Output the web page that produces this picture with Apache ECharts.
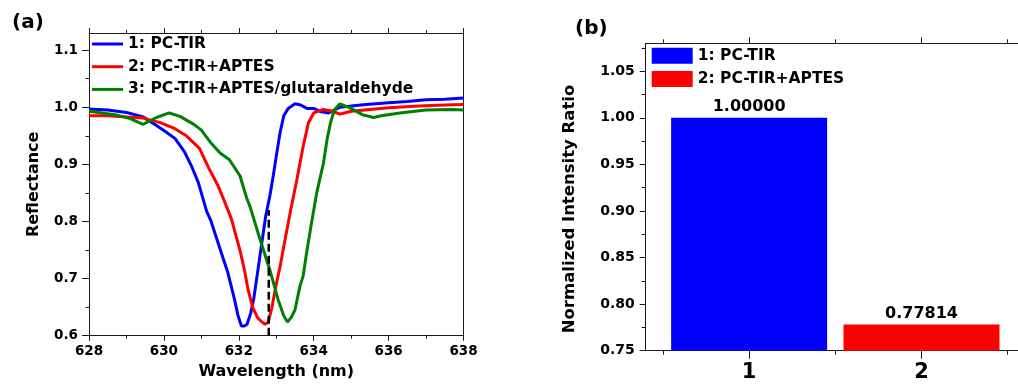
<!DOCTYPE html>
<html><head><meta charset="utf-8">
<script src="https://cdn.jsdelivr.net/npm/echarts@6/dist/echarts.min.js"></script>
<style>html,body{margin:0;padding:0;background:#fff}#c{width:1018px;height:385px}</style>
</head><body><div id="c"></div>
<script>
// ---- Panel (a) data: wavelength (nm) and reflectance ----
const seriesNames = ['1: PC-TIR', '2: PC-TIR+APTES', '3: PC-TIR+APTES/glutaraldehyde'];
const blueWl = [628.0,628.5,629.0,629.45,629.8,630.05,630.3,630.55,630.75,630.92,631.14,631.25,631.45,631.7,631.88,631.98,632.07,632.15,632.22,632.32,632.4,632.5,632.6,632.72,632.83,632.92,633.0,633.1,633.2,633.32,633.5,633.65,633.82,634.0,634.2,634.4,634.7,635.0,635.4,636.0,636.5,637.0,637.5,638.0];
const blueR  = [0.997,0.995,0.991,0.983,0.968,0.957,0.945,0.922,0.895,0.868,0.818,0.802,0.762,0.712,0.665,0.635,0.617,0.617,0.620,0.640,0.665,0.710,0.756,0.810,0.845,0.880,0.914,0.955,0.985,0.998,1.006,1.004,0.998,0.998,0.992,0.990,1.000,1.002,1.005,1.008,1.010,1.013,1.014,1.016];
const redWl = [628.0,628.5,629.0,629.45,629.9,630.25,630.6,630.95,631.2,631.45,631.65,631.8,632.03,632.15,632.25,632.38,632.5,632.6,632.7,632.78,632.88,633.0,633.1,633.2,633.37,633.55,633.72,633.86,634.0,634.25,634.5,634.7,635.0,635.5,636.0,636.8,637.5,638.0];
const redR  = [0.985,0.985,0.983,0.981,0.973,0.964,0.950,0.928,0.893,0.862,0.830,0.805,0.750,0.715,0.680,0.648,0.632,0.625,0.620,0.623,0.648,0.690,0.720,0.756,0.815,0.873,0.932,0.973,0.990,0.996,0.993,0.988,0.993,0.996,0.999,1.002,1.004,1.005];
const greenWl = [628.0,628.7,629.1,629.44,629.8,630.14,630.43,630.8,631.0,631.25,631.5,631.75,632.03,632.21,632.3,632.57,632.83,633.05,633.2,633.3,633.4,633.5,633.63,633.72,633.81,633.94,634.08,634.26,634.36,634.45,634.55,634.7,634.97,635.3,635.6,635.8,636.3,637.0,637.7,638.0];
const greenR  = [0.993,0.987,0.980,0.970,0.982,0.990,0.984,0.970,0.960,0.938,0.920,0.908,0.880,0.841,0.826,0.768,0.715,0.663,0.635,0.624,0.632,0.645,0.686,0.705,0.745,0.797,0.850,0.902,0.945,0.973,0.995,1.006,0.999,0.987,0.982,0.985,0.990,0.995,0.996,0.995];
const dashWl = [632.8, 632.8];
const dashR  = [0.6, 0.82];
const aXTicks = [628, 630, 632, 634, 636, 638];
const aYTicks = [0.6, 0.7, 0.8, 0.9, 1.0, 1.1];
const aYMinor = [0.65, 0.75, 0.85, 0.95, 1.05];

// ---- Panel (b) data ----
const barNames = ['1: PC-TIR', '2: PC-TIR+APTES'];
const barCats = [1, 2];
const barValues = [1.00000, 0.77814];
const bXMinor = [0.5, 1.5, 2.5];
const bYTicks = [0.75, 0.80, 0.85, 0.90, 0.95, 1.00, 1.05];
const bYMinor = [0.775, 0.825, 0.875, 0.925, 0.975, 1.025, 1.075];

const zip = (a, b) => a.map((v, i) => [v, b[i]]);
const FONT = 'DejaVu Sans';
const AX = '#1a1a1a';
const tStyle = (size) => ({ fontFamily: FONT, fontWeight: 'bold', fontSize: size, color: '#000' });
const line = { show: true, lineStyle: { color: AX, width: 1 } };
const noLabel = { show: false };
const LW = 3;

const chart = echarts.init(document.getElementById('c'), null, { renderer: 'canvas' });
const option = {
  animation: false,
  backgroundColor: '#fff',
  graphic: [
    { type: 'text', left: 12, top: 13, style: { text: '(a)', font: 'bold 20px "DejaVu Sans"', fill: '#000' } },
    { type: 'text', left: 575, top: 19, style: { text: '(b)', font: 'bold 20px "DejaVu Sans"', fill: '#000' } }
  ],
  grid: [
    { left: 89, top: 33, width: 374.5, height: 302.7 },
    { left: 645.7, top: 43.3, width: 372.3, height: 307.4 }
  ],
  legend: [
    { data: seriesNames, orient: 'vertical', left: 92, top: 36, padding: 0, icon: 'rect', itemWidth: 31, itemHeight: 3, itemGap: 6.7,
      textStyle: Object.assign(tStyle(15.5), { lineHeight: 16 }), selectedMode: false },
    { data: barNames, orient: 'vertical', left: 651.7, top: 47.7, padding: 0, icon: 'rect', itemWidth: 41, itemHeight: 16, itemGap: 7.3,
      textStyle: Object.assign(tStyle(15.5), { lineHeight: 16 }), selectedMode: false }
  ],
  xAxis: [
    { gridIndex: 0, type: 'value', position: 'bottom', min: 628, max: 638, interval: 2,
      axisLine: line, axisTick: { show: true, inside: false, length: 5, lineStyle: { color: AX } },
      minorTick: { show: true, splitNumber: 2, length: 3, lineStyle: { color: AX } },
      splitLine: { show: false },
      axisLabel: Object.assign(tStyle(13.5), { margin: 9, customValues: aXTicks }),
      name: 'Wavelength (nm)', nameLocation: 'middle', nameGap: 28, nameTextStyle: tStyle(16) },
    { gridIndex: 0, type: 'value', position: 'top', min: 628, max: 638, interval: 2,
      axisLine: line, axisTick: { show: true, inside: false, length: 5, lineStyle: { color: AX } },
      minorTick: { show: true, splitNumber: 2, length: 3, lineStyle: { color: AX } },
      splitLine: { show: false }, axisLabel: noLabel },
    { gridIndex: 1, type: 'value', position: 'bottom', min: 0.4, max: 2.56,
      axisLine: line, axisTick: { show: true, inside: false, length: 8, customValues: barCats, lineStyle: { color: AX } },
      splitLine: { show: false },
      axisLabel: Object.assign(tStyle(21), { margin: 11, customValues: barCats, formatter: v => String(Math.round(v)) }) },
    { gridIndex: 1, type: 'value', position: 'bottom', min: 0.4, max: 2.56,
      axisLine: { show: false }, axisTick: { show: true, inside: false, length: 4, customValues: bXMinor, lineStyle: { color: AX } },
      splitLine: { show: false }, axisLabel: noLabel },
    { gridIndex: 1, type: 'value', position: 'top', min: 0.4, max: 2.56,
      axisLine: line, axisTick: { show: true, inside: false, length: 6, customValues: barCats, lineStyle: { color: AX } },
      splitLine: { show: false }, axisLabel: noLabel },
    { gridIndex: 1, type: 'value', position: 'top', min: 0.4, max: 2.56,
      axisLine: { show: false }, axisTick: { show: true, inside: false, length: 4, customValues: bXMinor, lineStyle: { color: AX } },
      splitLine: { show: false }, axisLabel: noLabel }
  ],
  yAxis: [
    { gridIndex: 0, type: 'value', position: 'left', min: 0.6, max: 1.13,
      axisLine: line, axisTick: { show: true, inside: false, length: 7, customValues: aYTicks, lineStyle: { color: AX } },
      splitLine: { show: false },
      axisLabel: Object.assign(tStyle(13.5), { margin: 11, customValues: aYTicks, formatter: v => v.toFixed(1) }),
      name: 'Reflectance', nameLocation: 'middle', nameGap: 47, nameTextStyle: tStyle(16) },
    { gridIndex: 0, type: 'value', position: 'left', min: 0.6, max: 1.13,
      axisLine: { show: false }, axisTick: { show: true, inside: false, length: 3.5, customValues: aYMinor, lineStyle: { color: AX } },
      splitLine: { show: false }, axisLabel: noLabel },
    { gridIndex: 0, type: 'value', position: 'right', min: 0.6, max: 1.13,
      axisLine: line, axisTick: { show: false }, splitLine: { show: false }, axisLabel: noLabel },
    { gridIndex: 1, type: 'value', position: 'left', min: 0.75, max: 1.08,
      axisLine: line, axisTick: { show: true, inside: false, length: 6, customValues: bYTicks, lineStyle: { color: AX } },
      splitLine: { show: false },
      axisLabel: Object.assign(tStyle(14), { margin: 11, customValues: bYTicks, formatter: v => v.toFixed(2) }),
      name: 'Normalized Intensity Ratio', nameLocation: 'middle', nameGap: 67,
      nameTextStyle: Object.assign(tStyle(16.5), { padding: [0, 24, 0, 0] }) },
    { gridIndex: 1, type: 'value', position: 'left', min: 0.75, max: 1.08,
      axisLine: { show: false }, axisTick: { show: true, inside: false, length: 4, customValues: bYMinor, lineStyle: { color: AX } },
      splitLine: { show: false }, axisLabel: noLabel }
  ],
  series: [
    { name: seriesNames[0], type: 'line', xAxisIndex: 0, yAxisIndex: 0, data: zip(blueWl, blueR), showSymbol: false, symbol: 'none',
      lineStyle: { color: '#0000ff', width: LW }, itemStyle: { color: '#0000ff' } },
    { name: seriesNames[1], type: 'line', xAxisIndex: 0, yAxisIndex: 0, data: zip(redWl, redR), showSymbol: false, symbol: 'none',
      lineStyle: { color: '#ff0000', width: LW }, itemStyle: { color: '#ff0000' } },
    { name: seriesNames[2], type: 'line', xAxisIndex: 0, yAxisIndex: 0, data: zip(greenWl, greenR), showSymbol: false, symbol: 'none',
      lineStyle: { color: '#008000', width: LW }, itemStyle: { color: '#008000' } },
    { name: 'dash', type: 'line', xAxisIndex: 0, yAxisIndex: 0, data: zip(dashWl, dashR), showSymbol: false, symbol: 'none', silent: true,
      lineStyle: { color: '#000', width: 2.5, type: [8, 4] } },
    { name: barNames[0], type: 'bar', xAxisIndex: 2, yAxisIndex: 3, data: [[barCats[0], barValues[0]]], barWidth: 156, barGap: '-100%',
      itemStyle: { color: '#0000ff' },
      label: Object.assign(tStyle(16), { show: true, position: 'top', distance: 3, formatter: p => p.value[1].toFixed(5) }) },
    { name: barNames[1], type: 'bar', xAxisIndex: 2, yAxisIndex: 3, data: [[barCats[1], barValues[1]]], barWidth: 156, barGap: '-100%',
      itemStyle: { color: '#ff0000' },
      label: Object.assign(tStyle(16), { show: true, position: 'top', distance: 3, formatter: p => p.value[1].toFixed(5) }) }
  ]
};
chart.setOption(option);
</script></body></html>
